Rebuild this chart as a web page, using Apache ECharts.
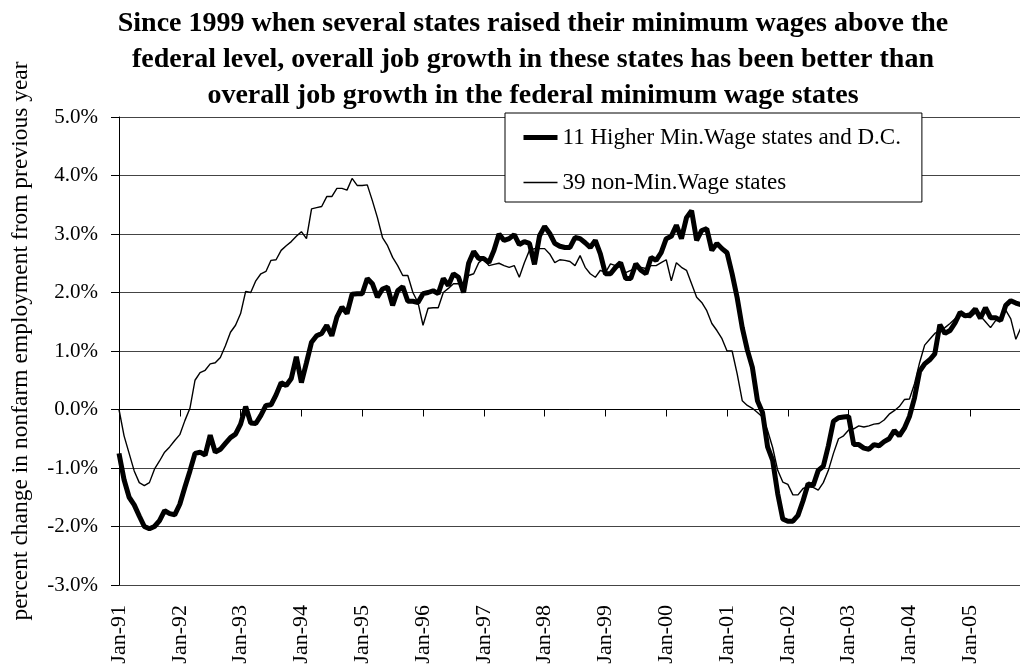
<!DOCTYPE html>
<html>
<head>
<meta charset="utf-8">
<script src="https://cdn.jsdelivr.net/npm/echarts@6/dist/echarts.min.js"></script>
<style>
  html, body { margin: 0; padding: 0; background: #fff; }
  #chart { width: 1020px; height: 667px; }
</style>
</head>
<body>
<div id="chart"></div>
<script>
// months Jan-91 .. Dec-05
var monthNames = ['Jan','Feb','Mar','Apr','May','Jun','Jul','Aug','Sep','Oct','Nov','Dec'];
var years = ['91','92','93','94','95','96','97','98','99','00','01','02','03','04','05'];

// 11 Higher Min.Wage states and D.C. (% change from previous year)
var higherMinWage = [
  -0.75, -1.2, -1.5, -1.63, -1.82, -2.0, -2.04, -2.0, -1.9, -1.73, -1.78, -1.8,
  -1.62, -1.33, -1.05, -0.75, -0.73, -0.78, -0.44, -0.73, -0.68, -0.58, -0.48, -0.42,
  -0.25, 0.05, -0.23, -0.24, -0.1, 0.07, 0.08, 0.25, 0.46, 0.41, 0.53, 0.9,
  0.46, 0.8, 1.15, 1.26, 1.3, 1.44, 1.26, 1.58, 1.75, 1.64, 1.97, 1.98,
  1.98, 2.24, 2.15, 1.92, 2.06, 2.09, 1.78, 2.03, 2.1, 1.85, 1.85, 1.83,
  1.98, 2.0, 2.03, 1.98, 2.24, 2.12, 2.32, 2.26, 2.0, 2.5, 2.7, 2.58,
  2.58, 2.51, 2.72, 3.0, 2.89, 2.92, 2.99, 2.82, 2.87, 2.84, 2.48, 2.97,
  3.13, 3.01, 2.84, 2.79, 2.77, 2.77, 2.94, 2.92, 2.85, 2.77, 2.89, 2.66,
  2.32, 2.32, 2.43, 2.51, 2.24, 2.24, 2.49, 2.38, 2.32, 2.6, 2.55, 2.68,
  2.92, 2.96, 3.15, 2.92, 3.28, 3.4, 2.89, 3.06, 3.09, 2.72, 2.84, 2.75,
  2.68, 2.32, 1.91, 1.4, 1.02, 0.72, 0.15, -0.05, -0.64, -0.87, -1.44, -1.87,
  -1.91, -1.91, -1.81, -1.56, -1.27, -1.3, -1.04, -0.97, -0.62, -0.2, -0.14, -0.13,
  -0.12, -0.6, -0.6, -0.66, -0.68, -0.6, -0.62, -0.55, -0.5, -0.36, -0.45, -0.32,
  -0.12, 0.2, 0.65, 0.78, 0.85, 0.95, 1.45, 1.3, 1.35, 1.48, 1.66, 1.6,
  1.62, 1.72, 1.56, 1.74, 1.57, 1.57, 1.52, 1.78, 1.86, 1.82, 1.79, 1.77
];

// 39 non-Min.Wage states
var nonMinWage = [
  0.0, -0.45, -0.75, -1.05, -1.25, -1.3, -1.25, -1.02, -0.88, -0.73, -0.64, -0.53,
  -0.43, -0.19, 0.02, 0.5, 0.63, 0.67, 0.78, 0.8, 0.89, 1.09, 1.32, 1.44,
  1.64, 2.02, 2.0, 2.2, 2.32, 2.36, 2.55, 2.56, 2.72, 2.8, 2.87, 2.96,
  3.04, 2.92, 3.43, 3.45, 3.47, 3.64, 3.64, 3.78, 3.78, 3.75, 3.95, 3.83,
  3.83, 3.84, 3.57, 3.28, 2.94, 2.8, 2.6, 2.46, 2.29, 2.29, 2.0, 1.83,
  1.44, 1.73, 1.74, 1.74, 2.0, 2.07, 2.15, 2.15, 2.1, 2.29, 2.32, 2.51,
  2.58, 2.46, 2.48, 2.5, 2.46, 2.43, 2.46, 2.26, 2.51, 2.72, 2.75, 2.75,
  2.75, 2.66, 2.51, 2.56, 2.55, 2.53, 2.46, 2.63, 2.43, 2.32, 2.26, 2.38,
  2.34, 2.49, 2.46, 2.43, 2.34, 2.38, 2.43, 2.43, 2.41, 2.46, 2.46, 2.51,
  2.56, 2.2, 2.51, 2.43, 2.38, 2.15, 1.92, 1.83, 1.69, 1.47, 1.35, 1.21,
  1.0, 1.0, 0.61, 0.15, 0.07, 0.02, -0.05, -0.13, -0.36, -0.65, -1.04, -1.24,
  -1.28, -1.46, -1.46, -1.35, -1.32, -1.33, -1.38, -1.25, -1.04, -0.75, -0.5, -0.45,
  -0.35, -0.33, -0.28, -0.3, -0.28, -0.25, -0.24, -0.18, -0.08, -0.02, 0.05, 0.17,
  0.18, 0.44, 0.8, 1.1, 1.2, 1.3, 1.35, 1.4, 1.47, 1.55, 1.62, 1.58,
  1.57, 1.65, 1.6, 1.5, 1.4, 1.52, 1.52, 1.7, 1.55, 1.2, 1.4, 1.45
];

var months = [];
years.forEach(function (y) {
  monthNames.forEach(function (m) { months.push(m + '-' + y); });
});

var font = 'Liberation Serif, Times New Roman, serif';
var isJan = function (idx) { return idx % 12 === 0; };

var myChart = echarts.init(document.getElementById('chart'));
var option = {
  animation: false,
  backgroundColor: '#fff',
  textStyle: { fontFamily: font, color: '#000' },
  title: {
    text: 'Since 1999 when several states raised their minimum wages above the\nfederal level, overall job growth in these states has been better than\noverall job growth in the federal minimum wage states',
    left: 533,
    top: 6,
    padding: 0,
    textAlign: 'center',
    textStyle: {
      fontFamily: font,
      fontWeight: 'bold',
      fontSize: 28,
      lineHeight: 36,
      color: '#000'
    }
  },
  legend: {
    orient: 'vertical',
    left: 505,
    top: 113,
    backgroundColor: '#fff',
    borderColor: '#000',
    borderWidth: 1,
    borderRadius: 0,
    padding: [13, 21, 8, 16],
    itemGap: 22,
    itemWidth: 34,
    itemHeight: 14,
    itemStyle: { opacity: 0 },
    textStyle: { fontFamily: font, fontSize: 23, color: '#000' },
    data: [
      { name: '11 Higher Min.Wage states and D.C.', lineStyle: { width: 5, color: '#000' } },
      { name: '39 non-Min.Wage states', lineStyle: { width: 1.4, color: '#000' } }
    ]
  },
  grid: {
    left: 119,
    top: 117,
    right: -6,
    bottom: 82,
    containLabel: false,
    outerBoundsMode: 'none'
  },
  xAxis: [
    {
      type: 'category',
      data: months,
      boundaryGap: false,
      position: 'bottom',
      axisLine: { onZero: true, lineStyle: { color: '#000', width: 1 } },
      axisTick: { show: true, interval: isJan, length: 7, lineStyle: { color: '#000' } },
      axisLabel: { show: false },
      splitLine: { show: false }
    },
    {
      type: 'category',
      data: months,
      boundaryGap: false,
      position: 'bottom',
      axisLine: { show: false, onZero: false },
      axisTick: { show: false },
      axisLabel: {
        interval: isJan,
        rotate: 90,
        margin: 20,
        fontFamily: font,
        fontSize: 22,
        color: '#000'
      },
      splitLine: { show: false }
    }
  ],
  yAxis: {
    type: 'value',
    min: -3,
    max: 5,
    interval: 1,
    name: 'percent change in nonfarm employment from previous year',
    nameLocation: 'middle',
    nameGap: 86,
    nameTextStyle: { fontFamily: font, fontSize: 23.5, color: '#000', padding: [0, 0, 0, 20] },
    axisLine: { show: true, lineStyle: { color: '#000', width: 1 } },
    axisTick: { show: true, length: 8, lineStyle: { color: '#000' } },
    axisLabel: {
      margin: 21,
      fontFamily: font,
      fontSize: 21,
      color: '#000',
      formatter: function (v) { return v.toFixed(1) + '%'; }
    },
    splitLine: { show: true, lineStyle: { color: '#444', width: 1 } }
  },
  series: [
    {
      name: '11 Higher Min.Wage states and D.C.',
      type: 'line',
      data: higherMinWage,
      symbol: 'none',
      lineStyle: { color: '#000', width: 5 },
      itemStyle: { color: '#000' },
      z: 3
    },
    {
      name: '39 non-Min.Wage states',
      type: 'line',
      data: nonMinWage,
      symbol: 'none',
      lineStyle: { color: '#000', width: 1.4 },
      itemStyle: { color: '#000' },
      z: 2
    }
  ]
};
myChart.setOption(option);
</script>
</body>
</html>
